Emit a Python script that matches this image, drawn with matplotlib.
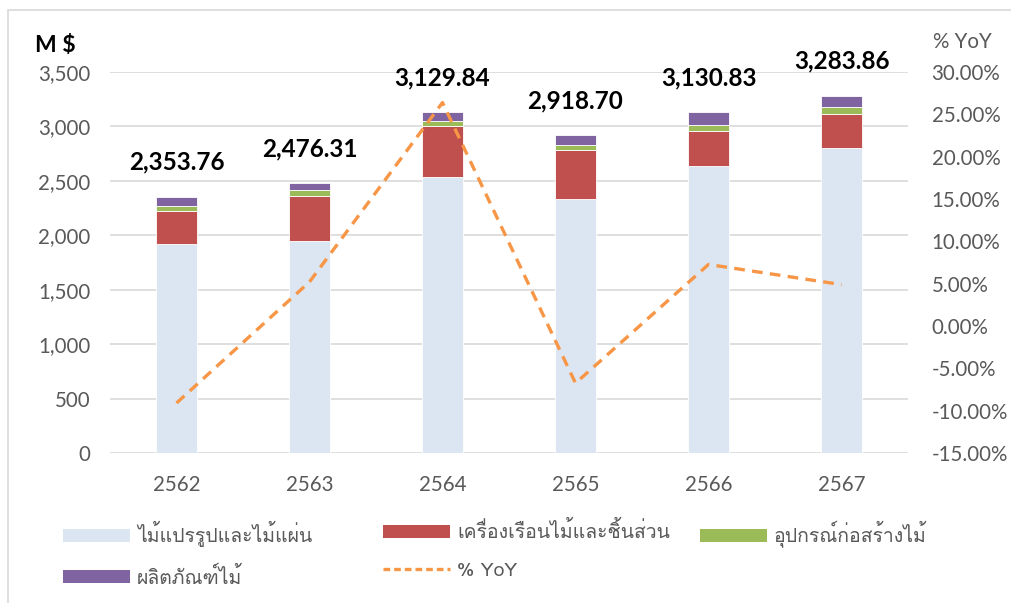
import numpy as np
import matplotlib
matplotlib.use("Agg")
import matplotlib.pyplot as plt
from matplotlib import font_manager
from matplotlib.patches import Patch, Rectangle
from matplotlib.lines import Line2D
from matplotlib.ticker import FuncFormatter, MultipleLocator

# ---------- data ----------
years = ["2562", "2563", "2564", "2565", "2566", "2567"]
series_names = ["ไม้แปรรูปและไม้แผ่น", "เครื่องเรือนไม้และชิ้นส่วน", "อุปกรณ์ก่อสร้างไม้", "ผลิตภัณฑ์ไม้"]
sawn_wood = [1924, 1945, 2532, 2333, 2639, 2805]
furniture = [303, 419, 471, 447, 318, 305]
construction = [45, 49, 47, 46, 59, 67]
wood_products = [82, 63, 80, 93, 115, 107]
totals = [2353.76, 2476.31, 3129.84, 2918.70, 3130.83, 3283.86]
yoy_pct = [-9.1, 5.21, 26.39, -6.75, 7.27, 4.89]

colors = ["#DCE6F2", "#C0504D", "#9BBB59", "#8064A2"]
line_color = "#F79646"
tick_color = "#595959"
grid_color = "#D9D9D9"


# pick an installed font that has Thai glyphs
def find_thai_font():
    try:
        from fontTools.ttLib import TTFont
    except Exception:
        return None
    for f in font_manager.fontManager.ttflist:
        try:
            tt = TTFont(f.fname, fontNumber=0, lazy=True)
            cmap = tt.getBestCmap()
            if cmap and 0x0E44 in cmap and 0x0E1C in cmap:
                return f.name
        except Exception:
            pass
    return None


thai_font = find_thai_font()
thai_family = [thai_font, "DejaVu Sans"] if thai_font else ["DejaVu Sans"]
plt.rcParams["font.family"] = ["Lato", "DejaVu Sans"]

fig = plt.figure(figsize=(10.11, 6.03), dpi=100)
ax = fig.add_axes([110 / 1011, 1 - 453 / 603, 798 / 1011, 381 / 603])
ax2 = ax.twinx()

x = np.arange(len(years))
w = 0.315
bottom = np.zeros(len(years))
for vals, c in zip([sawn_wood, furniture, construction, wood_products], colors):
    ax.bar(x, vals, w, bottom=bottom, color=c, edgecolor="white", linewidth=0.6, zorder=2)
    bottom += np.array(vals)

for xi, t in zip(x, totals):
    ax.annotate(f"{t:,.2f}", (xi, t), xytext=(0, 25), textcoords="offset points",
                ha="center", va="center", fontsize=17.5, fontweight="bold", color="black")

ax.set_xlim(-0.5, len(years) - 0.5)
ax.set_ylim(0, 3500)
ax.yaxis.set_major_locator(MultipleLocator(500))
ax.yaxis.set_major_formatter(FuncFormatter(lambda v, p: f"{v:,.0f}"))
ax.set_xticks(x)
ax.set_xticklabels(years)
ax.grid(axis="y", color=grid_color, linewidth=1.2, zorder=0)
ax.set_axisbelow(True)
for s in ax.spines.values():
    s.set_visible(False)
ax.tick_params(axis="y", length=0, pad=14, labelsize=14.8, labelcolor=tick_color)
ax.tick_params(axis="x", length=0, pad=16, labelsize=14.8, labelcolor=tick_color)

ax2.plot(x, yoy_pct, color=line_color, linewidth=2.4, dashes=(3.2, 2.2), zorder=3)
ax2.set_ylim(-15, 30)
ax2.yaxis.set_major_locator(MultipleLocator(5))
ax2.yaxis.set_major_formatter(FuncFormatter(lambda v, p: f"{v:.2f}%"))
for s in ax2.spines.values():
    s.set_visible(False)
ax2.tick_params(axis="y", length=0, pad=17, labelsize=14.8, labelcolor=tick_color)

fig.text(35 / 1011, 1 - 45 / 603, "M $", fontsize=16.5, fontweight="bold", color="black", va="center")
fig.text(933 / 1011, 1 - 42 / 603, "% YoY", fontsize=14.8, color=tick_color, va="center")

# chart border
fig.patches.append(Rectangle((8 / 1011, -0.01), 1.02, 1 - 10 / 603 + 0.01, transform=fig.transFigure,
                             fill=False, edgecolor="#D9D9D9", linewidth=1.2))

# legend, one block per column so the columns sit where they do in the original
bar_handles = [Patch(facecolor=c) for c in colors]
yoy_handle = Line2D([0], [0], color=line_color, linewidth=2.4, dashes=(2, 1.2))
legend_cols = [
    (63, [bar_handles[0], bar_handles[3]], [series_names[0], series_names[3]]),
    (383, [bar_handles[1], yoy_handle], [series_names[1], "% YoY"]),
    (700, [bar_handles[2]], [series_names[2]]),
]
for left, hs, ls in legend_cols:
    leg = fig.legend(hs, ls, loc="upper left", bbox_to_anchor=(left / 1011, 1 - 521 / 603),
                     frameon=False, handlelength=3.45, handleheight=0.65, handletextpad=0.35,
                     labelspacing=1.0, borderpad=0, borderaxespad=0,
                     prop={"family": thai_family, "size": 14})
    for t in leg.get_texts():
        t.set_color(tick_color)

fig.savefig("out.png", dpi=100)
